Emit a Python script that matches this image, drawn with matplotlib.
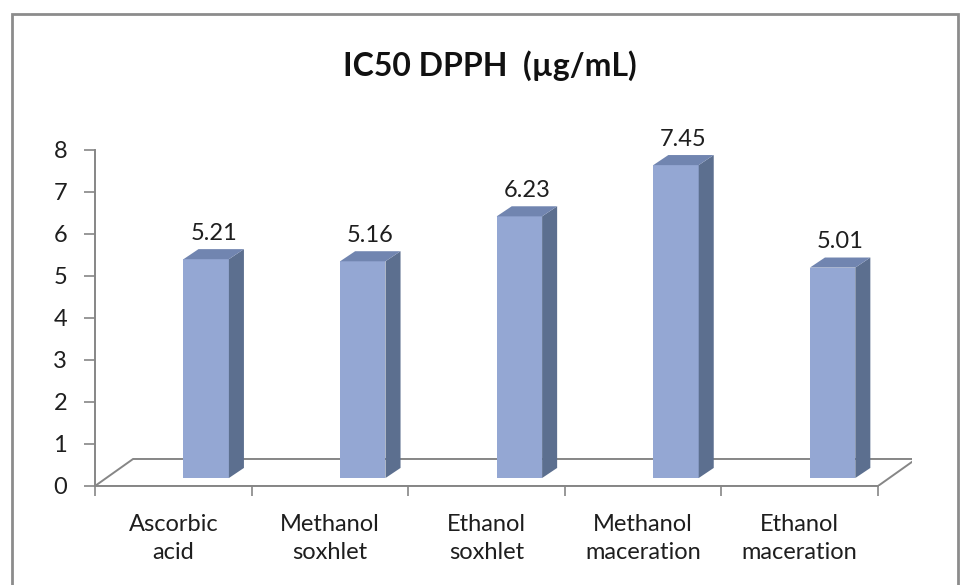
import matplotlib.pyplot as plt
from matplotlib.patches import Polygon, Rectangle

categories = ["Ascorbic\nacid", "Methanol\nsoxhlet", "Ethanol\nsoxhlet",
              "Methanol\nmaceration", "Ethanol\nmaceration"]
values = [5.21, 5.16, 6.23, 7.45, 5.01]
yticks = [0, 1, 2, 3, 4, 5, 6, 7, 8]

plt.rcParams['font.family'] = ['Lato', 'DejaVu Sans']

W, H = 962, 585
fig = plt.figure(figsize=(W / 100, H / 100), dpi=100)
ax = fig.add_axes([95 / W, (H - 486) / H, (912 - 95) / W, (486 - 150) / H])
ax.set_xlim(-0.5, 4.717)
ax.set_ylim(0, 8)

grey = '#868686'
front = '#94A7D3'
side = '#5C6F8F'
top = '#7185B0'
txt = '#1e1e1e'

# floor (3d look)
fdx, fdy = 0.243, 0.643
n = len(categories)
floor = Polygon([(-0.5, 0), (n - 0.5, 0), (n - 0.5 + fdx, fdy), (-0.5 + fdx, fdy)],
                closed=True, facecolor='white', edgecolor=grey, lw=1.4, zorder=1)
ax.add_patch(floor)

# bars
off, bw = 0.21, 0.29
base = 0.19
ddx, ddy = 0.096, 0.24
for i, v in enumerate(values):
    x0 = i + off - bw / 2
    x1 = x0 + bw
    ax.bar(i + off, v, bw, bottom=base, color=front, zorder=3, clip_on=False)
    ax.add_patch(Polygon([(x1, base), (x1, base + v), (x1 + ddx, base + v + ddy),
                          (x1 + ddx, base + ddy)], closed=True, facecolor=side,
                         edgecolor='none', zorder=3, clip_on=False))
    ax.add_patch(Polygon([(x0, base + v), (x1, base + v), (x1 + ddx, base + v + ddy),
                          (x0 + ddx, base + v + ddy)], closed=True, facecolor=top,
                         edgecolor='none', zorder=3, clip_on=False))
    ax.text(i + off + ddx / 2, base + v + ddy + 0.38, f"{v:.2f}", ha='center',
            va='center', fontsize=17, color=txt, zorder=4)

# axes lines
for s in ['top', 'right', 'bottom']:
    ax.spines[s].set_visible(False)
ax.spines['left'].set_color(grey)
ax.spines['left'].set_linewidth(1.4)
ax.plot([-0.5, n - 0.5], [0, 0], color=grey, lw=1.4, zorder=2, clip_on=False)

ax.set_yticks(yticks)
ax.set_yticklabels([str(t) for t in yticks], fontsize=17, color=txt)
ax.tick_params(axis='y', length=8, width=1.2, color=grey, pad=12)

ax.set_xticks(range(n))
ax.set_xticklabels(categories, fontsize=17, color=txt, linespacing=1.4)
ax.tick_params(axis='x', length=0, pad=20)
ax.set_xticks([i - 0.5 for i in range(n + 1)], minor=True)
ax.tick_params(axis='x', which='minor', length=7, width=1.2, color=grey)

fig.text(490 / W, 1 - 66 / H, "IC50 DPPH  (µg/mL)", ha='center', va='center',
         fontsize=23, fontweight='bold', color='#111111')

fig.patches.append(Rectangle((12 / W, -0.1), (958 - 12) / W, 1.1 - 14 / H,
                             transform=fig.transFigure, fill=False,
                             edgecolor='#8c8c8c', lw=2))

fig.savefig('out.png', dpi=100)
